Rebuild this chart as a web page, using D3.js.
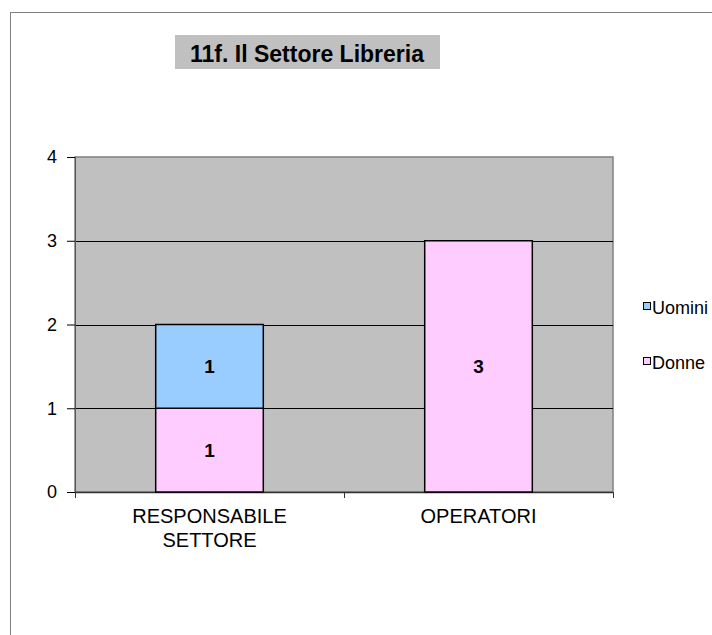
<!DOCTYPE html>
<html>
<head>
<meta charset="utf-8">
<script src="https://cdn.jsdelivr.net/npm/d3@7"></script>
<style>
  body { margin: 0; background: #fff; }
  svg { display: block; font-family: "Liberation Sans", Arial, sans-serif; }
</style>
</head>
<body>
<div id="chart"></div>
<script>
// data
const categories = ["RESPONSABILE SETTORE", "OPERATORI"]
const series = ["Donne", "Uomini"]
const donne = [1, 3]
const uomini = [1, 0]
const y_ticks = [0, 1, 2, 3, 4]
const title = "11f. Il Settore Libreria"

const colors = {Donne: "#ffccff", Uomini: "#99ccff"}

// constants
const width = 712
const height = 635
const plot = {left: 75, right: 613, top: 157, bottom: 492}

const svg = d3.select("#chart")
    .append("svg")
        .attr("width", width)
        .attr("height", height)

// outer frame
svg.append("rect")
    .attr("x", 10.5)
    .attr("y", 12.5)
    .attr("width", width)
    .attr("height", height)
    .attr("fill", "none")
    .attr("stroke", "#808080")

// title
svg.append("rect")
    .attr("x", 175)
    .attr("y", 35)
    .attr("width", 265)
    .attr("height", 34)
    .attr("fill", "#c0c0c0")
svg.append("text")
    .attr("x", 307)
    .attr("y", 62)
    .attr("text-anchor", "middle")
    .attr("font-weight", "bold")
    .style("font-size", "23px")
    .text(title)

const rows = categories.map((c, i) => ({cat: c, Donne: donne[i], Uomini: uomini[i]}))
const stacked = d3.stack().keys(series)(rows)

const x = d3.scaleBand()
    .domain(categories)
    .range([plot.left, plot.right])
    .paddingInner(0.6)
    .paddingOuter(0.3)

const y = d3.scaleLinear()
    .domain([0, 4])
    .range([plot.bottom, plot.top])

// plot background
svg.append("rect")
    .attr("x", plot.left)
    .attr("y", plot.top)
    .attr("width", plot.right - plot.left)
    .attr("height", plot.bottom - plot.top)
    .attr("fill", "#c0c0c0")
    .attr("stroke", "#808080")
    .attr("stroke-width", 1.5)

// gridlines
svg.append("g")
    .selectAll("line")
    .data(y_ticks.filter(d => d > 0 && d < 4))
    .join("line")
        .attr("x1", plot.left)
        .attr("x2", plot.right)
        .attr("y1", d => Math.round(y(d)) + 0.5)
        .attr("y2", d => Math.round(y(d)) + 0.5)
        .attr("stroke", "#000")

// y axis
const yAxis = svg.append("g")
    .attr("transform", `translate(${plot.left}, 0)`)
    .call(d3.axisLeft(y)
            .tickValues(y_ticks)
            .tickSize(8)
            .tickPadding(10)
            .tickFormat(d3.format("d")))
    .attr("font-family", null)
    .attr("font-size", null)
yAxis.select(".domain").attr("stroke", "#555")
yAxis.selectAll("text")
    .style("font-size", "18px")
    .attr("fill", "#000")

// x axis line + category ticks
svg.append("line")
    .attr("x1", plot.left)
    .attr("x2", plot.right)
    .attr("y1", plot.bottom + 0.5)
    .attr("y2", plot.bottom + 0.5)
    .attr("stroke", "#333")
    .attr("stroke-width", 1.5)
const boundaries = [plot.left].concat(categories.map(c => x(c) + x.bandwidth() + x.step() * 0.3))
svg.append("g")
    .selectAll("line")
    .data(boundaries)
    .join("line")
        .attr("x1", d => Math.round(d) + 0.5)
        .attr("x2", d => Math.round(d) + 0.5)
        .attr("y1", plot.bottom)
        .attr("y2", plot.bottom + 6)
        .attr("stroke", "#333")

// category labels
svg.append("g")
    .selectAll("text")
    .data(categories)
    .join("text")
        .attr("x", d => x(d) + x.bandwidth() / 2)
        .attr("y", 523)
        .attr("text-anchor", "middle")
        .style("font-size", "20px")
        .each(function(d) {
            const words = d.split(" ")
            d3.select(this).selectAll("tspan")
                .data(words)
                .join("tspan")
                    .attr("x", x(d) + x.bandwidth() / 2)
                    .attr("dy", (w, i) => i == 0 ? 0 : 24)
                    .text(w => w)
        })

// bars
const layers = svg.append("g")
    .selectAll("g")
    .data(stacked)
    .join("g")
        .attr("fill", d => colors[d.key])

layers.selectAll("rect")
    .data(d => d.filter(s => s[1] - s[0] > 0))
    .join("rect")
        .attr("x", d => x(d.data.cat))
        .attr("y", d => y(d[1]))
        .attr("width", x.bandwidth())
        .attr("height", d => y(d[0]) - y(d[1]))
        .attr("stroke", "#000")
        .attr("stroke-width", 1.5)

layers.selectAll("text")
    .data(d => d.filter(s => s[1] - s[0] > 0))
    .join("text")
        .attr("x", d => x(d.data.cat) + x.bandwidth() / 2)
        .attr("y", d => (y(d[0]) + y(d[1])) / 2 + 7)
        .attr("text-anchor", "middle")
        .attr("fill", "#000")
        .attr("font-weight", "bold")
        .style("font-size", "19px")
        .text(d => d[1] - d[0])

// legend
const legendItems = ["Uomini", "Donne"]
const legend = svg.append("g")
    .selectAll("g")
    .data(legendItems)
    .join("g")
        .attr("transform", (d, i) => `translate(643, ${302 + i * 55})`)
legend.append("rect")
    .attr("x", 0.5)
    .attr("y", 0.5)
    .attr("width", 7)
    .attr("height", 7)
    .attr("fill", d => colors[d])
    .attr("stroke", "#000")
legend.append("text")
    .attr("x", 9)
    .attr("y", 12)
    .style("font-size", "18px")
    .text(d => d)
</script>
</body>
</html>
